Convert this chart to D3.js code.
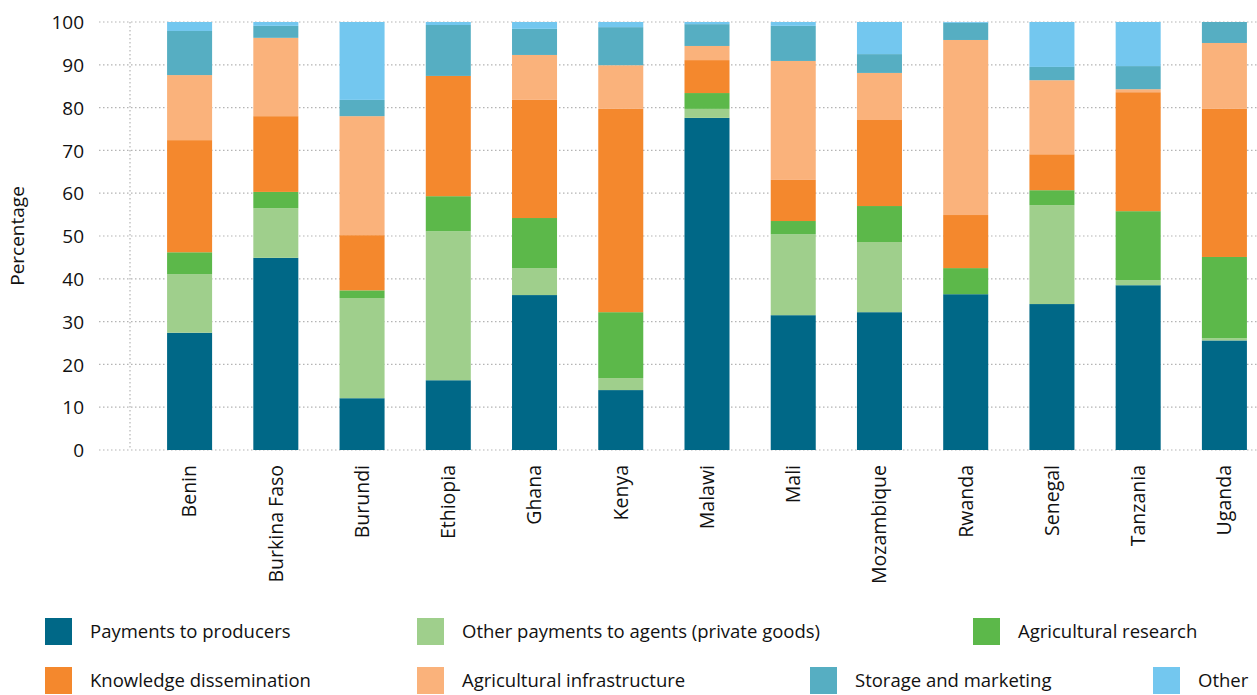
<!DOCTYPE html>
<html>
<head>
<meta charset="utf-8">
<script src="https://cdn.jsdelivr.net/npm/d3@7"></script>
<style>
  body { margin: 0; background: #fff; }
  svg { display: block; font-family: "Open Sans", sans-serif; }
</style>
</head>
<body>
<div id="chart"></div>
<script>
const countries = ["Benin", "Burkina Faso", "Burundi", "Ethiopia", "Ghana", "Kenya",
  "Malawi", "Mali", "Mozambique", "Rwanda", "Senegal", "Tanzania", "Uganda"];

const categories = ["Payments to producers", "Other payments to agents (private goods)",
  "Agricultural research", "Knowledge dissemination", "Agricultural infrastructure",
  "Storage and marketing", "Other"];

// one array per category, in country order
const payments     = [27.4, 44.9, 12.1, 16.3, 36.2, 14.0, 77.6, 31.5, 32.2, 36.4, 34.1, 38.5, 25.6];
const otherAgents  = [13.7, 11.6, 23.4, 34.8,  6.3,  2.8,  2.1, 18.9, 16.4,  0.0, 23.1,  1.2,  0.5];
const research     = [ 5.1,  3.8,  1.8,  8.2, 11.7, 15.4,  3.7,  3.1,  8.4,  6.1,  3.5, 16.1, 19.0];
const knowledge    = [26.2, 17.7, 12.9, 28.1, 27.6, 47.5,  7.7,  9.6, 20.1, 12.4,  8.4, 27.8, 34.6];
const infra        = [15.2, 18.3, 27.8,  0.0, 10.5, 10.2,  3.3, 27.8, 11.0, 40.9, 17.3,  0.7, 15.4];
const storage      = [10.3,  2.8,  3.8, 11.9,  6.1,  8.9,  5.1,  8.2,  4.4,  4.0,  3.1,  5.4,  4.9];
const other        = [ 2.1,  0.9, 18.2,  0.7,  1.6,  1.2,  0.5,  0.9,  7.5,  0.2, 10.5, 10.3,  0.0];

const yTicks = [0, 10, 20, 30, 40, 50, 60, 70, 80, 90, 100];

const colors = ["#006887", "#9fcf8c", "#5cb84a", "#f4882d", "#fab27b", "#56aec2", "#73c7ef"];

const W = 1257, H = 695;
const plot = { left: 130, top: 22, bottom: 450, gridLeft: 99 };
const FONT = 18.5;

// legend placement (rows / columns as in the original)
const legendSpots = [
  { x: 45, y: 618 }, { x: 417, y: 618 }, { x: 973, y: 618 },
  { x: 45, y: 667 }, { x: 417, y: 667 }, { x: 810, y: 667 }, { x: 1153, y: 667 },
];

const series = [payments, otherAgents, research, knowledge, infra, storage, other];
const rows = countries.map((c, i) => {
  const r = { country: c };
  categories.forEach((k, j) => { r[k] = series[j][i]; });
  return r;
});

const svg = d3.select("#chart").append("svg").attr("width", W).attr("height", H);

const x = d3.scaleBand().domain(countries).range([plot.left, 1284])
  .paddingInner(0.478).paddingOuter(0.43);
const y = d3.scaleLinear().domain([0, 100]).range([plot.bottom, plot.top]);

// gridlines
svg.append("g").selectAll("line").data(yTicks).join("line")
  .attr("x1", plot.gridLeft).attr("x2", W)
  .attr("y1", d => y(d)).attr("y2", d => y(d))
  .attr("stroke", "#b4b4b4").attr("stroke-width", 1.2).attr("stroke-dasharray", "1.5,2.5");

svg.append("line")
  .attr("x1", plot.left).attr("x2", plot.left)
  .attr("y1", y(100)).attr("y2", y(0))
  .attr("stroke", "#b4b4b4").attr("stroke-width", 1.2).attr("stroke-dasharray", "1.5,2.5");

// y axis labels
const yAxis = svg.append("g").attr("transform", `translate(${plot.left - 46},0)`)
  .call(d3.axisLeft(y).tickValues(yTicks).tickSize(0).tickPadding(0));
yAxis.select(".domain").remove();
yAxis.selectAll("text").attr("font-size", FONT + 0.5).attr("fill", "#111")
  .attr("font-family", "Open Sans, sans-serif").attr("dy", "0.35em");

svg.append("text")
  .attr("transform", `translate(24,${(y(0) + y(100)) / 2}) rotate(-90)`)
  .attr("text-anchor", "middle").attr("font-size", 19).attr("fill", "#111")
  .text("Percentage");

// stacked bars
const stacked = d3.stack().keys(categories)(rows);
svg.append("g").selectAll("g").data(stacked).join("g")
  .attr("fill", (d, i) => colors[i])
  .selectAll("rect").data(d => d).join("rect")
  .attr("x", d => x(d.data.country))
  .attr("width", x.bandwidth())
  .attr("y", d => y(d[1]))
  .attr("height", d => Math.max(0, y(d[0]) - y(d[1])));

// x labels rotated
const xAxis = svg.append("g").attr("transform", `translate(0,${plot.bottom})`)
  .call(d3.axisBottom(x).tickSize(0).tickPadding(0));
xAxis.select(".domain").remove();
xAxis.selectAll("text")
  .attr("font-size", 19.5).attr("fill", "#111")
  .attr("font-family", "Open Sans, sans-serif")
  .attr("text-anchor", "end")
  .attr("transform", "rotate(-90)")
  .attr("x", -15).attr("y", 0).attr("dy", "0.35em");

// legend
const legend = svg.append("g").selectAll("g").data(categories).join("g")
  .attr("transform", (d, i) => `translate(${legendSpots[i].x},${legendSpots[i].y})`);
legend.append("rect").attr("width", 27).attr("height", 27).attr("fill", (d, i) => colors[i]);
legend.append("text").attr("x", 45).attr("y", 14).attr("dy", "0.35em")
  .attr("font-size", FONT).attr("fill", "#111").text(d => d);
</script>
</body>
</html>
